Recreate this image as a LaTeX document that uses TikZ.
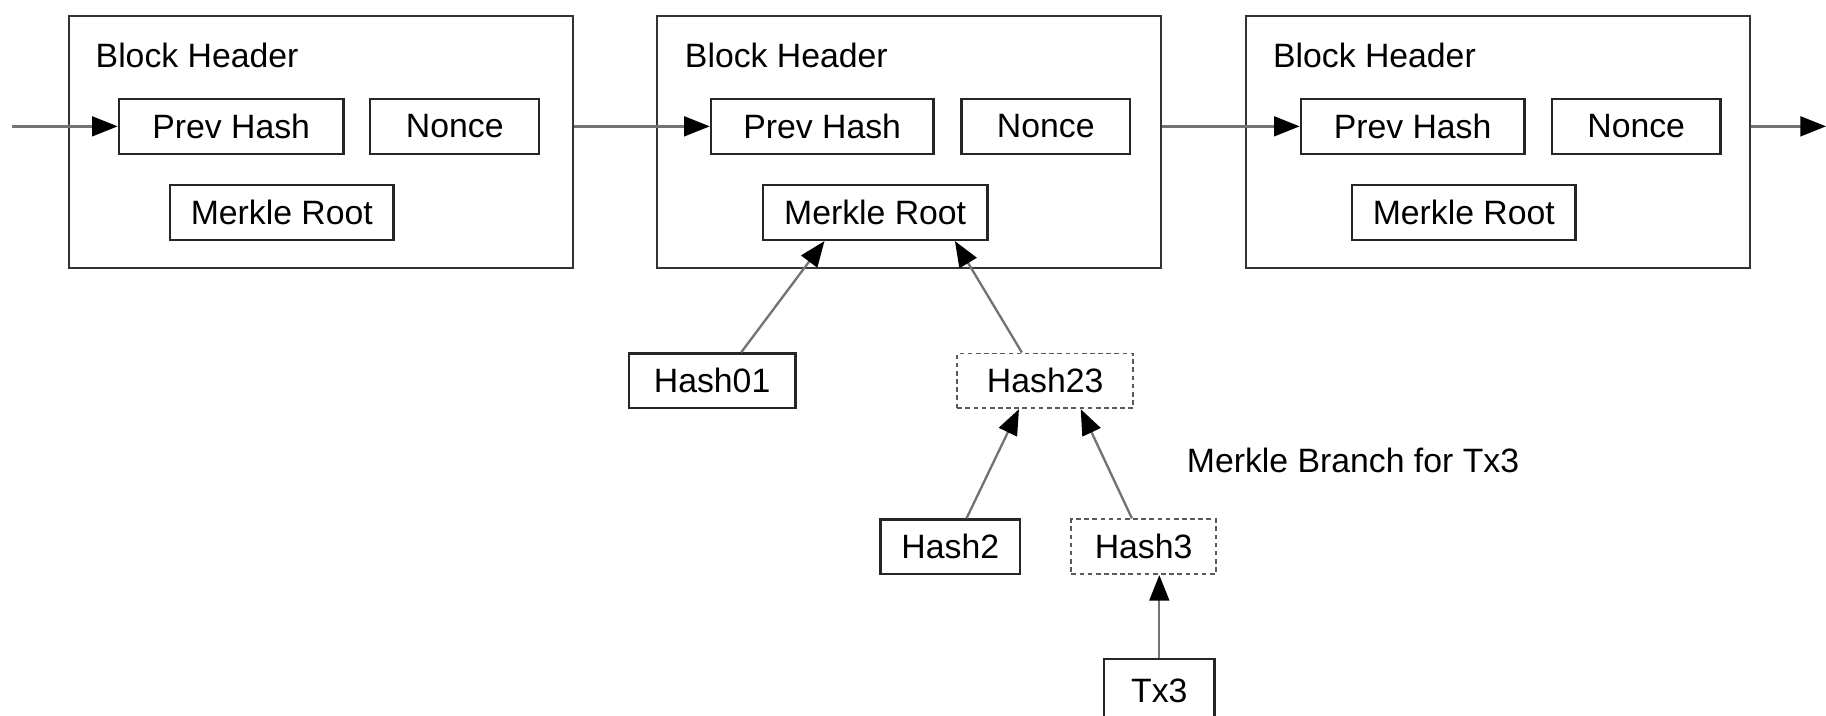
\documentclass[tikz,border=0pt]{standalone}
\usepackage{fontspec}
\setmainfont{Liberation Sans}
\usetikzlibrary{arrows.meta,calc}
\begin{document}
\begin{tikzpicture}[x=1pt,y=-1pt,
 every node/.style={font=\fontsize{29}{34}\selectfont},
 blk/.style={draw=black!80, line width=2pt, minimum width=433pt, minimum height=216pt, inner sep=0pt, anchor=north west},
 fld/.style={draw=black!85, line width=2pt, minimum height=47pt, inner sep=0pt},
 dfld/.style={draw=black!65, line width=1.6pt, dash pattern=on 4pt off 3pt, minimum height=47pt, inner sep=0pt},
 lbl/.style={anchor=west, inner sep=0pt},
 conn/.style={draw=black!55, line width=2pt, -{Triangle[length=22pt,width=17pt,color=black]}}]
\useasboundingbox (0,0) rectangle (1568,614);
% blocks
\node[blk] (b1) at (58,13) {};
\node[blk] (b2) at (563,13) {};
\node[blk] (b3) at (1069,13) {};
\node[lbl] (t1) at (82,48) {Block Header};
\node[lbl] (t2) at (588,48) {Block Header};
\node[lbl] (t3) at (1093,48) {Block Header};
% fields
\node[fld, minimum width=193pt] (p1) at (198.5,108.5) {Prev Hash};
\node[fld, minimum width=145pt] (n1) at (390.5,108.5) {Nonce};
\node[fld, minimum width=192pt] (m1) at (242,182.5) {Merkle Root};
\node[fld, minimum width=191pt] (p2) at (706,108.5) {Prev Hash};
\node[fld, minimum width=145pt] (n2) at (898,108.5) {Nonce};
\node[fld, minimum width=193pt] (m2) at (751.5,182.5) {Merkle Root};
\node[fld, minimum width=192pt] (p3) at (1213,108.5) {Prev Hash};
\node[fld, minimum width=145pt] (n3) at (1405,108.5) {Nonce};
\node[fld, minimum width=192pt] (m3) at (1257,182.5) {Merkle Root};
% tree
\node[fld, minimum width=143pt] (h01) at (611.5,327) {Hash01};
\node[dfld, minimum width=151pt] (h23) at (897.5,327) {Hash23};
\node[fld, minimum width=120pt] (h2) at (816,469.5) {Hash2};
\node[dfld, minimum width=124pt] (h3) at (982,469.5) {Hash3};
\node[fld, minimum width=95pt, minimum height=54pt] (tx3) at (995.5,593) {Tx3};
\node[lbl] (mb) at (1019,395) {Merkle Branch for Tx3};
% chain connectors
\coordinate (in) at (10,108.5);
\coordinate (out) at (1568,108.5);
\draw[conn] (in) -- (p1.west);
\draw[conn] (p2.west -| b1.east) -- (p2.west);
\draw[conn] (p3.west -| b2.east) -- (p3.west);
\draw[conn] (p3.west -| b3.east) -- (out);
% merkle connectors
\draw[conn] ($(h01.north)+(25,0)$) -- ($(m2.south)+(-43.5,0)$);
\draw[conn] ($(h23.north)+(-20,0)$) -- ($(m2.south)+(68.5,0)$);
\draw[conn] ($(h2.north)+(14,0)$) -- ($(h23.south)+(-22.5,0)$);
\draw[conn] ($(h3.north)+(-10,0)$) -- ($(h23.south)+(30.5,0)$);
\draw[conn] (tx3.north) -- (h3.south -| tx3.north);
\end{tikzpicture}
\end{document}
